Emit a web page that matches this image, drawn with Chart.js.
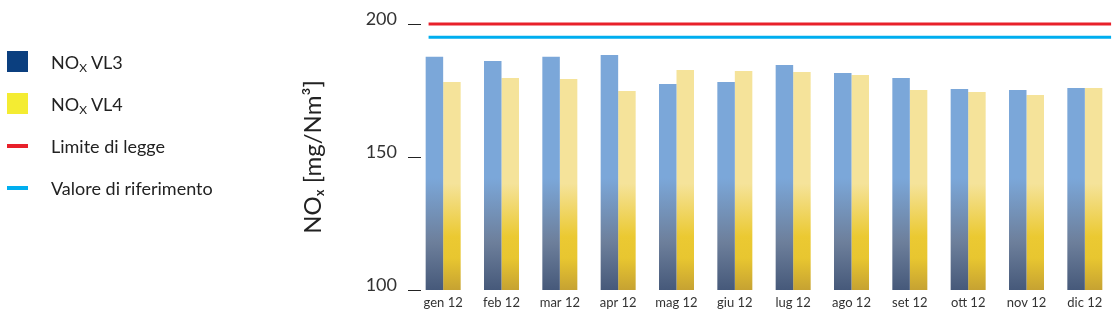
<!DOCTYPE html>
<html>
<head>
<meta charset="utf-8">
<script src="https://cdn.jsdelivr.net/npm/chart.js@4.4.0/dist/chart.umd.min.js"></script>
<style>
  html, body { margin: 0; padding: 0; background: #fff; }
  #wrap { position: relative; width: 1116px; height: 326px; }
  #legenda { position: absolute; left: 7px; top: 0; font-family: Lato, sans-serif; font-size: 18px; color: #222; }
  .voce { position: absolute; left: 0; white-space: nowrap; height: 22px; line-height: 22px; }
  .voce i { position: absolute; left: 0; width: 21px; }
  .voce span { position: absolute; left: 44px; }
  .voce sub { font-size: 12px; vertical-align: -3px; }
</style>
</head>
<body>
<div id="wrap">
  <canvas id="grafico" width="1116" height="326"></canvas>
  <div id="legenda"></div>
</div>
<script>
const mesi = ['gen 12', 'feb 12', 'mar 12', 'apr 12', 'mag 12', 'giu 12', 'lug 12', 'ago 12', 'set 12', 'ott 12', 'nov 12', 'dic 12'];
const noxVL3 = [187.7, 186.1, 187.7, 188.3, 177.4, 178.2, 184.6, 181.6, 179.7, 175.6, 175.2, 175.9];
const noxVL4 = [178.2, 179.7, 179.3, 174.8, 182.7, 182.3, 182.0, 180.8, 175.2, 174.4, 173.3, 175.9];
const limiteLegge = 200;
const valoreRiferimento = 195;
const tickY = [100, 150, 200];

// nomi della legenda (con pedice)
const nomiLegenda = ['NO<sub>X</sub> VL3', 'NO<sub>X</sub> VL4', 'Limite di legge', 'Valore di riferimento'];
const coloriLegenda = ['#0b3f7f', '#f4ec32', '#e8202a', '#00aeef'];

Chart.defaults.font.family = 'Lato, sans-serif';

// sfumatura verticale sull'area del grafico
function sfumatura(stops, fallback) {
  return function (ctx) {
    const area = ctx.chart.chartArea;
    if (!area) return fallback;
    const g = ctx.chart.ctx.createLinearGradient(0, area.top, 0, area.bottom);
    stops.forEach(s => g.addColorStop(s[0], s[1]));
    return g;
  };
}

const blu = sfumatura([[0, '#7ba7d9'], [0.58, '#7ba7d9'], [0.82, '#6d7f9b'], [1, '#46597a']], '#7ba7d9');
const giallo = sfumatura([[0, '#f5e39a'], [0.6, '#f5e39a'], [0.8, '#ebc932'], [0.88, '#e8c630'], [1, '#c6a232']], '#f5e39a');

// linee di soglia: estensione in unità di categoria
const soglie = [
  { valore: limiteLegge, colore: '#e8202a' },
  { valore: valoreRiferimento, colore: '#00aeef' }
];
const estremi = [-0.25, 11.45];

const lineeSoglia = {
  id: 'lineeSoglia',
  afterDatasetsDraw(chart) {
    const x = chart.scales.x, y = chart.scales.y, c = chart.ctx;
    const passo = x.getPixelForValue(1) - x.getPixelForValue(0);
    const x0 = x.getPixelForValue(0) + estremi[0] * passo;
    const x1 = x.getPixelForValue(0) + estremi[1] * passo;
    c.save();
    c.lineWidth = 3;
    soglie.forEach(s => {
      const py = y.getPixelForValue(s.valore);
      c.strokeStyle = s.colore;
      c.beginPath();
      c.moveTo(x0, py);
      c.lineTo(x1, py);
      c.stroke();
    });
    c.restore();
  }
};

const ctx = document.getElementById('grafico');
const chart = new Chart(ctx, {
  type: 'bar',
  data: {
    labels: mesi,
    datasets: [
      { label: 'NOx VL3', data: noxVL3, backgroundColor: blu },
      { label: 'NOx VL4', data: noxVL4, backgroundColor: giallo }
    ]
  },
  options: {
    responsive: false,
    animation: false,
    categoryPercentage: 0.6,
    barPercentage: 1,
    layout: { padding: { left: 299, right: 2, top: 24, bottom: 0 } },
    plugins: { legend: { display: false }, tooltip: { enabled: false } },
    scales: {
      x: {
        grid: { display: false, drawTicks: false },
        border: { display: false },
        ticks: { padding: 5, color: '#333', font: { size: 13 }, maxRotation: 0, autoSkip: false },
        afterFit: s => { s.height = 36; }
      },
      y: {
        min: 100,
        max: 200,
        afterBuildTicks: s => { s.ticks = tickY.map(v => ({ value: v })); },
        ticks: {
          padding: 11, color: '#333', font: { size: 18, lineHeight: 0.55 },
          callback: v => [String(v), '']
        },
        grid: { color: '#222', lineWidth: 1, tickLength: 6, tickBorderDash: [] },
        border: { display: false, dash: [7, 2000] },
        title: { display: true, text: 'NOₓ [mg/Nm³]', color: '#222', font: { size: 24 }, padding: 0 },
        afterFit: s => { s.width = 115; }
      }
    }
  },
  plugins: [lineeSoglia]
});

// legenda HTML
const leg = document.getElementById('legenda');
nomiLegenda.forEach((nome, i) => {
  const d = document.createElement('div');
  d.className = 'voce';
  d.style.top = (51 + i * 42) + 'px';
  const box = i < 2 ? 'top:0;height:21px;' : 'top:9px;height:4px;';
  d.innerHTML = '<i style="' + box + 'background:' + coloriLegenda[i] + '"></i><span>' + nome + '</span>';
  leg.appendChild(d);
});
</script>
</body>
</html>
